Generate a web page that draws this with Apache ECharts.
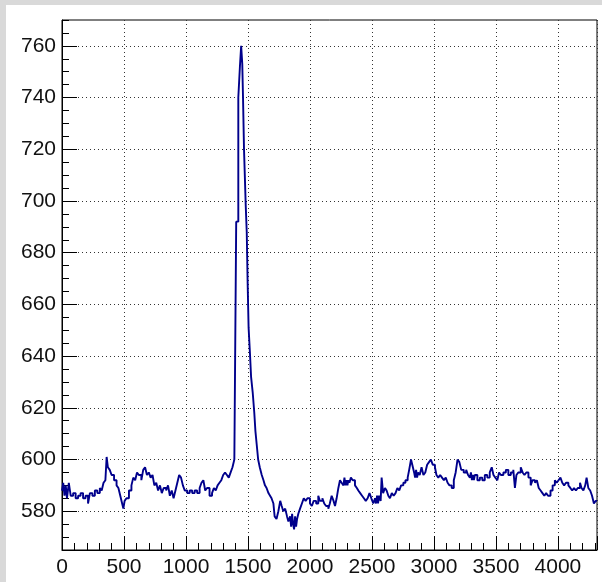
<!DOCTYPE html>
<html>
<head>
<meta charset="utf-8">
<script src="https://cdn.jsdelivr.net/npm/echarts@6/dist/echarts.min.js"></script>
<style>
  html, body { margin: 0; padding: 0; background: #d9d9d9; }
  #chart { position: absolute; left: 6px; top: 5px; width: 596px; height: 577px; background: #ffffff; }
</style>
</head>
<body>
<div id="chart"></div>
<script>
// Bin left edges (x) and bin contents (y)
const binX = [
  0,10,20,30,40,55,70,90,110,130,150,170,190,210,225,245,265,285,305,320,
  335,350,360,370,385,400,420,440,455,470,485,495,505,520,540,560,575,590,605,620,
  640,655,670,685,700,715,730,745,760,775,790,805,820,840,855,870,885,900,915,930,
  945,960,975,990,1010,1030,1050,1070,1090,1110,1125,1140,1155,1170,1190,1210,1225,1240,1255,1270,
  1285,1300,1315,1330,1345,1360,1375,1390,1405,1422,1435,1445,1454,1460,1468,1482,1490,1497,1505,1516,
  1525,1538,1551,1560,1570,1582,1595,1611,1625,1637,1650,1665,1678,1690,1705,1715,1730,1745,1760,1772,
  1785,1800,1815,1826,1840,1848,1856,1864,1872,1880,1888,1896,1906,1920,1935,1950,1965,1980,2000,2015,
  2030,2050,2067,2080,2100,2115,2130,2148,2160,2175,2190,2202,2215,2229,2242,2255,2270,2278,2286,2294,
  2302,2310,2318,2330,2345,2363,2378,2390,2405,2420,2435,2450,2465,2480,2495,2511,2525,2533,2541,2549,
  2557,2570,2578,2590,2605,2618,2632,2645,2660,2675,2690,2705,2720,2735,2753,2770,2788,2800,2815,2830,
  2840,2848,2856,2864,2872,2885,2900,2915,2930,2945,2960,2975,2990,3008,3020,3035,3050,3065,3080,3095,
  3110,3125,3143,3160,3175,3190,3205,3220,3240,3260,3275,3290,3298,3306,3314,3322,3330,3350,3370,3390,
  3410,3430,3450,3466,3480,3495,3511,3525,3540,3560,3580,3600,3620,3640,3653,3665,3680,3700,3715,3730,
  3745,3762,3780,3795,3815,3830,3845,3860,3875,3890,3905,3920,3940,3957,3975,3990,4005,4020,4035,4050,
  4065,4084,4100,4115,4130,4145,4160,4178,4190,4205,4220,4231,4245,4260,4275,4290,4305,4315
];
const binY = [
  588,591,586,590,585,591,586,587,585,586,587,585,586,583,587,586,588,587,589,588,
  591,592,601,597,596,594,592,590,589,586,583,581,584,585,588,590,593,592,595,594,
  592,596,597,594,595,593,594,590,591,588,590,587,589,588,590,586,588,585,588,591,
  594,593,590,588,587,588,587,588,587,589,591,592,588,589,586,587,589,588,590,591,
  592,594,595,594,593,595,597,600,692,740,752,760,753,740,720,698,688,669,651,641,
  632,626,618,611,606,600,597,594,592,590,589,587,586,585,583,578,577,580,584,582,
  580,581,578,576,578,574,579,575,573,578,574,577,579,581,583,585,584,585,583,582,
  584,583,586,584,585,583,582,581,583,586,584,582,585,589,592,591,590,593,590,592,
  590,592,591,593,592,590,589,588,587,586,585,584,585,587,585,583,585,583,586,583,
  586,584,593,587,589,588,586,585,587,586,587,589,588,590,591,592,593,596,600,597,
  595,593,596,593,595,594,597,594,595,598,599,600,598,597,594,593,594,593,592,593,
  591,590,589,592,595,600,599,596,595,596,594,593,595,592,594,592,594,592,593,592,
  594,593,595,597,594,593,592,595,594,595,596,594,595,596,589,594,595,597,595,594,
  595,593,590,592,591,592,589,588,587,586,587,586,588,590,592,591,592,593,591,590,
  591,590,589,588,589,588,589,591,589,588,590,593,589,588,586,583,584,584
];

const xMin = 0, xMax = 4315, xStep = 500;
const yMin = 565, yMax = 770;
const yMajorTicks = [580,600,620,640,660,680,700,720,740,760];
const yMinorTicks = [565,570,575,585,590,595,605,610,615,625,630,635,645,650,655,665,670,675,685,690,695,705,710,715,725,730,735,745,750,755,765,770];

const n = Math.min(binX.length, binY.length);
const points = binX.slice(0, n).map((x, i) => [x, binY[i]]);

const FONT = 'Liberation Sans';
const chart = echarts.init(document.getElementById('chart'), null, { renderer: 'canvas' });
chart.setOption({
  animation: false,
  backgroundColor: '#ffffff',
  grid: { left: 56, top: 15, right: 5, bottom: 32, show: true, borderColor: '#000', borderWidth: 1, backgroundColor: 'transparent' },
  xAxis: {
    type: 'value', min: xMin, max: xMax, interval: xStep,
    axisLine: { show: true, lineStyle: { color: '#000', width: 1 } },
    axisTick: { show: true, inside: true, length: 14, lineStyle: { color: '#000' } },
    minorTick: { show: true, splitNumber: 5, length: 7, lineStyle: { color: '#000' } },
    axisLabel: { color: '#111', fontFamily: FONT, fontSize: 21, margin: 7, showMaxLabel: false, formatter: v => String(v) },
    splitLine: { show: true, lineStyle: { color: '#333', type: [1, 3], width: 1 } }
  },
  yAxis: [
    {
      type: 'value', min: yMin, max: yMax,
      axisLine: { show: true, lineStyle: { color: '#000', width: 1 } },
      axisTick: { show: true, inside: true, length: 15, customValues: yMajorTicks, lineStyle: { color: '#000' } },
      axisLabel: { color: '#111', fontFamily: FONT, fontSize: 21, margin: 6, customValues: yMajorTicks, formatter: v => String(v) },
      splitLine: { show: true, lineStyle: { color: '#333', type: [1, 3], width: 1 } }
    },
    {
      type: 'value', min: yMin, max: yMax, position: 'left',
      axisLine: { show: false },
      axisTick: { show: true, inside: true, length: 7, customValues: yMinorTicks, lineStyle: { color: '#000' } },
      axisLabel: { show: false },
      splitLine: { show: false }
    }
  ],
  series: [{
    type: 'line',
    yAxisIndex: 0,
    data: points,
    step: 'end',
    showSymbol: false,
    symbol: 'none',
    lineStyle: { color: '#00008c', width: 1.9 },
    clip: true
  }]
});
</script>
</body>
</html>
